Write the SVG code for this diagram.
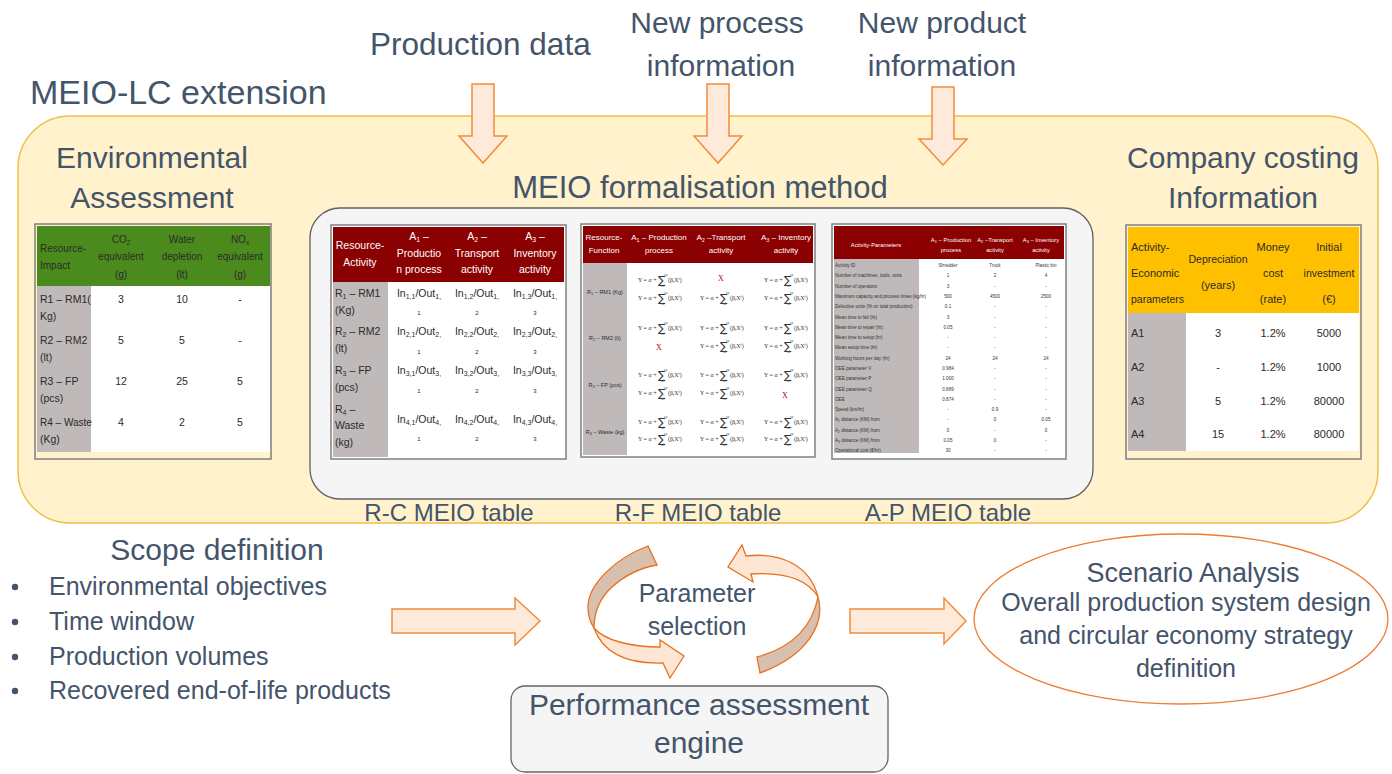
<svg xmlns="http://www.w3.org/2000/svg" xmlns:xlink="http://www.w3.org/1999/xlink" width="1392" height="774" viewBox="0 0 1392 774">
<style>
.t{font-family:'Liberation Sans',Arial,sans-serif;fill:#44546a}
.tb{font-family:'Liberation Sans',Arial,sans-serif;fill:#2b2b2b}
.hw{font-family:'Liberation Sans',Arial,sans-serif;fill:#ffffff}
.c{text-anchor:middle}
.arr{fill:#fdeada;stroke:#f28c3c;stroke-width:1.5}
.rib1{fill:#d9bfae;stroke:#e8701f;stroke-width:1.3}
.rib2{fill:#fde6d4;stroke:#e8701f;stroke-width:1.3}
.fm{font-family:'Liberation Serif','DejaVu Serif',serif;font-size:6px;fill:#333}
.sg{font-family:'DejaVu Sans',sans-serif;font-size:11px;fill:#333}
.lim{font-family:'Liberation Sans',Arial,sans-serif;font-size:2.6px;fill:#555}
.rx{font-family:'Liberation Serif',serif;font-size:8px;fill:#c00000;text-anchor:middle}
.ap{font-family:'Liberation Sans',Arial,sans-serif;font-size:4.6px;fill:#333}
.grey{fill:#bfb9b9}
</style>
<defs>
<g id="fy">
<text class="fm" x="-24" y="2">Y = α +</text>
<text class="sg" x="-4" y="4">∑</text>
<text class="lim" x="2" y="-4">i=p</text>
<text class="lim" x="-1" y="7">i=0</text>
<text class="fm" x="6" y="2">(β<tspan font-size="4" dy="1">i</tspan><tspan dy="-1">X</tspan><tspan font-size="4" dy="-2">i</tspan><tspan dy="2">)</tspan></text>
</g>
</defs>
<rect width="1392" height="774" fill="#ffffff"/>

<g id="meio-lc-extension">
<rect x="18" y="116" width="1360" height="407" rx="52" fill="#fff2cc" stroke="#efbf4a" stroke-width="1.5"/>
<text class="t" x="30" y="104" font-size="34">MEIO-LC extension</text>
</g>

<g id="inputs">
<text class="t" x="370" y="55" font-size="31.5">Production data</text>
<text class="t c" x="717" y="33" font-size="30">New process</text>
<text class="t c" x="721" y="76" font-size="30">information</text>
<text class="t c" x="942" y="33" font-size="30">New product</text>
<text class="t c" x="942" y="76" font-size="30">information</text>
</g>

<g id="environmental-assessment">
<text class="t c" x="152" y="168" font-size="30">Environmental</text>
<text class="t c" x="152" y="208" font-size="30">Assessment</text>
<rect x="35" y="224" width="236" height="235" fill="#fff2cc" stroke="#7f7f7f" stroke-width="1.5"/>
<rect x="37" y="226" width="233" height="60" fill="#4b8a1c"/>
<rect class="grey" x="37" y="286" width="54" height="166"/>
<rect x="91" y="286" width="179" height="166" fill="#ffffff"/>
<g class="tb" font-size="10">
<text x="40" y="252">Resource-</text>
<text x="40" y="269">Impact</text>
<text class="c" x="121" y="243">CO<tspan font-size="6.5" dy="2">2</tspan></text>
<text class="c" x="121" y="260">equivalent</text>
<text class="c" x="121" y="278">(g)</text>
<text class="c" x="182" y="243">Water</text>
<text class="c" x="182" y="260">depletion</text>
<text class="c" x="182" y="278">(lt)</text>
<text class="c" x="240" y="243">NO<tspan font-size="6.5" dy="2">x</tspan></text>
<text class="c" x="240" y="260">equivalent</text>
<text class="c" x="240" y="278">(g)</text>
</g>
<g class="tb" font-size="10.5">
<text x="40" y="303">R1 – RM1(</text><text x="40" y="320">Kg)</text>
<text x="40" y="344">R2 – RM2</text><text x="40" y="361">(lt)</text>
<text x="40" y="385">R3 – FP</text><text x="40" y="402">(pcs)</text>
<text x="40" y="426" font-size="10">R4 – Waste</text><text x="40" y="443">(Kg)</text>
<text class="c" x="121" y="303">3</text><text class="c" x="182" y="303">10</text><text class="c" x="240" y="303">-</text>
<text class="c" x="121" y="344">5</text><text class="c" x="182" y="344">5</text><text class="c" x="240" y="344">-</text>
<text class="c" x="121" y="385">12</text><text class="c" x="182" y="385">25</text><text class="c" x="240" y="385">5</text>
<text class="c" x="121" y="426">4</text><text class="c" x="182" y="426">2</text><text class="c" x="240" y="426">5</text>
</g>
</g>

<g id="meio-formalisation">
<text class="t c" x="700" y="198" font-size="31">MEIO formalisation method</text>
<rect x="310" y="208" width="783" height="291" rx="30" fill="#f5f5f5" stroke="#606060" stroke-width="1.3"/>
<text class="t c" x="449" y="521" font-size="24">R-C MEIO table</text>
<text class="t c" x="698" y="521" font-size="24">R-F MEIO table</text>
<text class="t c" x="948" y="521" font-size="24">A-P MEIO table</text>
</g>

<g id="rc-table">
<rect x="331" y="225" width="235" height="234" fill="#ffffff" stroke="#7f7f7f" stroke-width="1.5"/>
<rect x="333" y="227" width="231" height="55" fill="#8b0000"/>
<rect class="grey" x="333" y="282" width="55" height="175"/>
<g class="hw" font-size="10.5">
<text class="c" x="360" y="249">Resource-</text>
<text class="c" x="360" y="266">Activity</text>
<text class="c" x="419" y="240">A<tspan font-size="7" dy="2">1</tspan><tspan dy="-2"> –</tspan></text>
<text class="c" x="419" y="257">Productio</text>
<text class="c" x="419" y="273">n process</text>
<text class="c" x="477" y="240">A<tspan font-size="7" dy="2">2</tspan><tspan dy="-2"> –</tspan></text>
<text class="c" x="477" y="257">Transport</text>
<text class="c" x="477" y="273">activity</text>
<text class="c" x="535" y="240">A<tspan font-size="7" dy="2">3</tspan><tspan dy="-2"> –</tspan></text>
<text class="c" x="535" y="257">Inventory</text>
<text class="c" x="535" y="273">activity</text>
</g>
<g class="tb" font-size="10.5">
<text x="335" y="297">R<tspan font-size="7" dy="2">1</tspan><tspan dy="-2"> – RM1</tspan></text><text x="335" y="314">(Kg)</text>
<text x="335" y="335">R<tspan font-size="7" dy="2">2</tspan><tspan dy="-2"> – RM2</tspan></text><text x="335" y="352">(lt)</text>
<text x="335" y="374">R<tspan font-size="7" dy="2">3</tspan><tspan dy="-2"> – FP</tspan></text><text x="335" y="391">(pcs)</text>
<text x="335" y="413">R<tspan font-size="7" dy="2">4</tspan><tspan dy="-2"> –</tspan></text><text x="335" y="429">Waste</text><text x="335" y="446">(kg)</text>
</g>
<g class="tb" font-size="10.5">
<text class="c" x="419" y="297">In<tspan font-size="7" dy="2">1,1</tspan><tspan dy="-2">/Out</tspan><tspan font-size="7" dy="2">1,</tspan></text>
<text class="c" x="477" y="297">In<tspan font-size="7" dy="2">1,2</tspan><tspan dy="-2">/Out</tspan><tspan font-size="7" dy="2">1,</tspan></text>
<text class="c" x="535" y="297">In<tspan font-size="7" dy="2">1,3</tspan><tspan dy="-2">/Out</tspan><tspan font-size="7" dy="2">1,</tspan></text>
<text class="c" x="419" y="335">In<tspan font-size="7" dy="2">2,1</tspan><tspan dy="-2">/Out</tspan><tspan font-size="7" dy="2">2,</tspan></text>
<text class="c" x="477" y="335">In<tspan font-size="7" dy="2">2,2</tspan><tspan dy="-2">/Out</tspan><tspan font-size="7" dy="2">2,</tspan></text>
<text class="c" x="535" y="335">In<tspan font-size="7" dy="2">2,3</tspan><tspan dy="-2">/Out</tspan><tspan font-size="7" dy="2">2,</tspan></text>
<text class="c" x="419" y="374">In<tspan font-size="7" dy="2">3,1</tspan><tspan dy="-2">/Out</tspan><tspan font-size="7" dy="2">3,</tspan></text>
<text class="c" x="477" y="374">In<tspan font-size="7" dy="2">3,2</tspan><tspan dy="-2">/Out</tspan><tspan font-size="7" dy="2">3,</tspan></text>
<text class="c" x="535" y="374">In<tspan font-size="7" dy="2">3,3</tspan><tspan dy="-2">/Out</tspan><tspan font-size="7" dy="2">3,</tspan></text>
<text class="c" x="419" y="423">In<tspan font-size="7" dy="2">4,1</tspan><tspan dy="-2">/Out</tspan><tspan font-size="7" dy="2">4,</tspan></text>
<text class="c" x="477" y="423">In<tspan font-size="7" dy="2">4,2</tspan><tspan dy="-2">/Out</tspan><tspan font-size="7" dy="2">4,</tspan></text>
<text class="c" x="535" y="423">In<tspan font-size="7" dy="2">4,3</tspan><tspan dy="-2">/Out</tspan><tspan font-size="7" dy="2">4,</tspan></text>
</g>
<g class="tb" font-size="6">
<text class="c" x="419" y="315">1</text><text class="c" x="477" y="315">2</text><text class="c" x="535" y="315">3</text>
<text class="c" x="419" y="354">1</text><text class="c" x="477" y="354">2</text><text class="c" x="535" y="354">3</text>
<text class="c" x="419" y="393">1</text><text class="c" x="477" y="393">2</text><text class="c" x="535" y="393">3</text>
<text class="c" x="419" y="441">1</text><text class="c" x="477" y="441">2</text><text class="c" x="535" y="441">3</text>
</g>
</g>

<g id="rf-table">
<rect x="581" y="224" width="234" height="233" fill="#ffffff" stroke="#7f7f7f" stroke-width="1.5"/>
<rect x="583" y="226" width="230" height="37" fill="#8b0000"/>
<rect class="grey" x="583" y="263" width="44" height="192"/>
<g class="hw" font-size="8">
<text class="c" x="604" y="240">Resource-</text>
<text class="c" x="604" y="253">Function</text>
<text class="c" x="659" y="240">A<tspan font-size="5.5" dy="1.5">1</tspan><tspan dy="-1.5"> – Production</tspan></text>
<text class="c" x="659" y="253">process</text>
<text class="c" x="721" y="240">A<tspan font-size="5.5" dy="1.5">2</tspan><tspan dy="-1.5"> –Transport</tspan></text>
<text class="c" x="721" y="253">activity</text>
<text class="c" x="786" y="240">A<tspan font-size="5.5" dy="1.5">3</tspan><tspan dy="-1.5"> – Inventory</tspan></text>
<text class="c" x="786" y="253">activity</text>
</g>
<g class="tb" font-size="5.5">
<text class="c" x="605" y="294">R<tspan font-size="4" dy="1">1</tspan><tspan dy="-1"> – RM1 (Kg)</tspan></text>
<text class="c" x="605" y="340">R<tspan font-size="4" dy="1">2</tspan><tspan dy="-1"> – RM2 (lt)</tspan></text>
<text class="c" x="605" y="387">R<tspan font-size="4" dy="1">3</tspan><tspan dy="-1"> – FP (pcs)</tspan></text>
<text class="c" x="605" y="434">R<tspan font-size="4" dy="1">4</tspan><tspan dy="-1"> – Waste (kg)</tspan></text>
</g>
<use xlink:href="#fy" x="662" y="280"/><use xlink:href="#fy" x="662" y="298"/>
<text class="rx" x="721" y="281">X</text><use xlink:href="#fy" x="724" y="298"/>
<use xlink:href="#fy" x="788" y="280"/><use xlink:href="#fy" x="788" y="298"/>
<use xlink:href="#fy" x="662" y="328"/><text class="rx" x="659" y="350">X</text>
<use xlink:href="#fy" x="724" y="328"/><use xlink:href="#fy" x="724" y="346"/>
<use xlink:href="#fy" x="788" y="328"/><use xlink:href="#fy" x="788" y="346"/>
<use xlink:href="#fy" x="662" y="375"/><use xlink:href="#fy" x="662" y="393"/>
<use xlink:href="#fy" x="724" y="375"/><use xlink:href="#fy" x="724" y="393"/>
<use xlink:href="#fy" x="788" y="375"/><text class="rx" x="785" y="398">X</text>
<use xlink:href="#fy" x="662" y="422"/><use xlink:href="#fy" x="662" y="439"/>
<use xlink:href="#fy" x="724" y="422"/><use xlink:href="#fy" x="724" y="439"/>
<use xlink:href="#fy" x="788" y="422"/><use xlink:href="#fy" x="788" y="439"/>
</g>

<g id="ap-table">
<rect x="832" y="224" width="234" height="235" fill="#ffffff" stroke="#7f7f7f" stroke-width="1.5"/>
<rect x="834" y="226" width="230" height="33" fill="#8b0000"/>
<rect class="grey" x="834" y="259" width="85" height="194"/>
<g class="hw" font-size="5.8">
<text class="c" x="876" y="247">Activity-Parameters</text>
<text class="c" x="951" y="242">A<tspan font-size="4" dy="1">1</tspan><tspan dy="-1"> – Production</tspan></text>
<text class="c" x="951" y="252">process</text>
<text class="c" x="995" y="242">A<tspan font-size="4" dy="1">2</tspan><tspan dy="-1"> –Transport</tspan></text>
<text class="c" x="995" y="252">activity</text>
<text class="c" x="1041" y="242">A<tspan font-size="4" dy="1">3</tspan><tspan dy="-1"> – Inventory</tspan></text>
<text class="c" x="1041" y="252">activity</text>
</g>
<g class="ap">
<text x="835" y="267">Activity ID</text>
<text x="835" y="277">Number of machines, tools, units</text>
<text x="835" y="287.5">Number of operators</text>
<text x="835" y="298">Maximum capacity and process times (kg/hr)</text>
<text x="835" y="308">Defective units  (% on total production)</text>
<text x="835" y="318.5">Mean time to fail (hr)</text>
<text x="835" y="329">Mean time to repair (hr)</text>
<text x="835" y="339">Mean time to setup (hr)</text>
<text x="835" y="349">Mean setup time (hr)</text>
<text x="835" y="359.5">Working hours per day (hr)</text>
<text x="835" y="370">OEE parameter V</text>
<text x="835" y="380">OEE parameter P</text>
<text x="835" y="390.5">OEE parameter Q</text>
<text x="835" y="401">OEE</text>
<text x="835" y="411">Speed (km/hr)</text>
<text x="835" y="421">A<tspan font-size="3.2" dy="1">1</tspan><tspan dy="-1"> distance (KM) from</tspan></text>
<text x="835" y="431.5">A<tspan font-size="3.2" dy="1">2</tspan><tspan dy="-1"> distance (KM) from</tspan></text>
<text x="835" y="442">A<tspan font-size="3.2" dy="1">3</tspan><tspan dy="-1"> distance (KM) from</tspan></text>
<text x="835" y="452">Operational cost (€/hr)</text>
</g>
<g class="ap c">
<text x="948" y="267">Shredder</text><text x="995" y="267">Truck</text><text x="1046" y="267">Plastic bin</text>
<text x="948" y="277">1</text><text x="995" y="277">2</text><text x="1046" y="277">4</text>
<text x="948" y="287.5">3</text><text x="995" y="287.5">-</text><text x="1046" y="287.5">-</text>
<text x="948" y="298">500</text><text x="995" y="298">4500</text><text x="1046" y="298">2500</text>
<text x="948" y="308">0.1</text><text x="995" y="308">-</text><text x="1046" y="308">-</text>
<text x="948" y="318.5">3</text><text x="995" y="318.5">-</text><text x="1046" y="318.5">-</text>
<text x="948" y="329">0.05</text><text x="995" y="329">-</text><text x="1046" y="329">-</text>
<text x="948" y="339">-</text><text x="995" y="339">-</text><text x="1046" y="339">-</text>
<text x="948" y="349">-</text><text x="995" y="349">-</text><text x="1046" y="349">-</text>
<text x="948" y="359.5">24</text><text x="995" y="359.5">24</text><text x="1046" y="359.5">24</text>
<text x="948" y="370">0.984</text><text x="995" y="370">-</text><text x="1046" y="370">-</text>
<text x="948" y="380">1.000</text><text x="995" y="380">-</text><text x="1046" y="380">-</text>
<text x="948" y="390.5">0.889</text><text x="995" y="390.5">-</text><text x="1046" y="390.5">-</text>
<text x="948" y="401">0.874</text><text x="995" y="401">-</text><text x="1046" y="401">-</text>
<text x="948" y="411">-</text><text x="995" y="411">0.9</text><text x="1046" y="411">-</text>
<text x="948" y="421">-</text><text x="995" y="421">0</text><text x="1046" y="421">0.05</text>
<text x="948" y="431.5">0</text><text x="995" y="431.5">-</text><text x="1046" y="431.5">0</text>
<text x="948" y="442">0.05</text><text x="995" y="442">0</text><text x="1046" y="442">-</text>
<text x="948" y="452">30</text><text x="995" y="452">-</text><text x="1046" y="452">-</text>
</g>
</g>

<g id="company-costing">
<text class="t c" x="1243" y="168" font-size="30">Company costing</text>
<text class="t c" x="1243" y="208" font-size="30">Information</text>
<rect x="1126" y="225" width="235" height="234" fill="#fff2cc" stroke="#7f7f7f" stroke-width="1.5"/>
<rect x="1128" y="227" width="231" height="86" fill="#ffc000"/>
<rect class="grey" x="1128" y="313" width="58" height="138"/>
<rect x="1186" y="313" width="173" height="138" fill="#ffffff"/>
<g class="tb" font-size="11">
<text x="1131" y="251">Activity-</text>
<text x="1131" y="277">Economic</text>
<text x="1131" y="303" font-size="10.5">parameters</text>
<text class="c" x="1218" y="263" font-size="10.5">Depreciation</text>
<text class="c" x="1218" y="289">(years)</text>
<text class="c" x="1273" y="251">Money</text>
<text class="c" x="1273" y="277">cost</text>
<text class="c" x="1273" y="303">(rate)</text>
<text class="c" x="1329" y="251">Initial</text>
<text class="c" x="1329" y="277" font-size="10.5">investment</text>
<text class="c" x="1329" y="303">(€)</text>
<text x="1131" y="337">A1</text><text class="c" x="1218" y="337">3</text><text class="c" x="1273" y="337">1.2%</text><text class="c" x="1329" y="337">5000</text>
<text x="1131" y="371">A2</text><text class="c" x="1218" y="371">-</text><text class="c" x="1273" y="371">1.2%</text><text class="c" x="1329" y="371">1000</text>
<text x="1131" y="405">A3</text><text class="c" x="1218" y="405">5</text><text class="c" x="1273" y="405">1.2%</text><text class="c" x="1329" y="405">80000</text>
<text x="1131" y="438">A4</text><text class="c" x="1218" y="438">15</text><text class="c" x="1273" y="438">1.2%</text><text class="c" x="1329" y="438">80000</text>
</g>
</g>

<g id="scope-definition">
<text class="t c" x="217" y="560" font-size="30">Scope definition</text>
<g fill="#44546a"><circle cx="15" cy="587" r="3.2"/><circle cx="15" cy="622" r="3.2"/><circle cx="15" cy="657" r="3.2"/><circle cx="15" cy="691" r="3.2"/></g>
<text class="t" x="49" y="595" font-size="25">Environmental objectives</text>
<text class="t" x="49" y="630" font-size="25">Time window</text>
<text class="t" x="49" y="665" font-size="25">Production volumes</text>
<text class="t" x="49" y="699" font-size="25">Recovered end-of-life products</text>
</g>

<g id="parameter-selection">
<text class="t c" x="697" y="602" font-size="25">Parameter</text>
<text class="t c" x="697" y="635" font-size="25">selection</text>
</g>

<g id="performance-engine">
<rect x="511" y="686" width="377" height="86" rx="14" fill="#f5f5f5" stroke="#666666" stroke-width="1.3"/>
<text class="t c" x="699" y="715" font-size="30">Performance assessment</text>
<text class="t c" x="699" y="753" font-size="30">engine</text>
</g>

<g id="scenario-analysis">
<ellipse cx="1181" cy="619" rx="207" ry="85" fill="#ffffff" stroke="#ed7d31" stroke-width="1.3"/>
<text class="t c" x="1193" y="582" font-size="27">Scenario Analysis</text>
<text class="t c" x="1186" y="611" font-size="25">Overall production system design</text>
<text class="t c" x="1186" y="644" font-size="25">and circular economy strategy</text>
<text class="t c" x="1186" y="677" font-size="25">definition</text>
</g>

<g id="connectors">
<path class="arr" d="M472 84H494V136H507L483 163L459 136H472Z"/>
<path class="arr" d="M707 84H729V136H742L718 163L694 136H707Z"/>
<path class="arr" d="M932 87H954V139H967L943 165L919 139H932Z"/>
<path class="arr" d="M392 609H515V598L540 621L515 645V633H392Z"/>
<path class="arr" d="M850 609H944V598L966 621L944 644V633H850Z"/>
<path class="rib1" d="M648 546C616 558 588 584 588 607C588 615 590 622 594 628C594 612 600 598 612 587C624 576 640 568 657 565Z"/>
<path class="rib2" d="M594 628C604 640 630 647 660 647L660 640L684 656L670 678L663 663C632 664 604 656 594 628Z"/>
<path class="rib2" d="M746 556L742 545L728 567L753 582L751 574C785 572 808 580 818 597C810 565 780 552 746 556Z"/>
<path class="rib1" d="M818 597C826 625 806 656 760 673L757 657C790 648 812 628 818 597Z"/>
</g>
</svg>
